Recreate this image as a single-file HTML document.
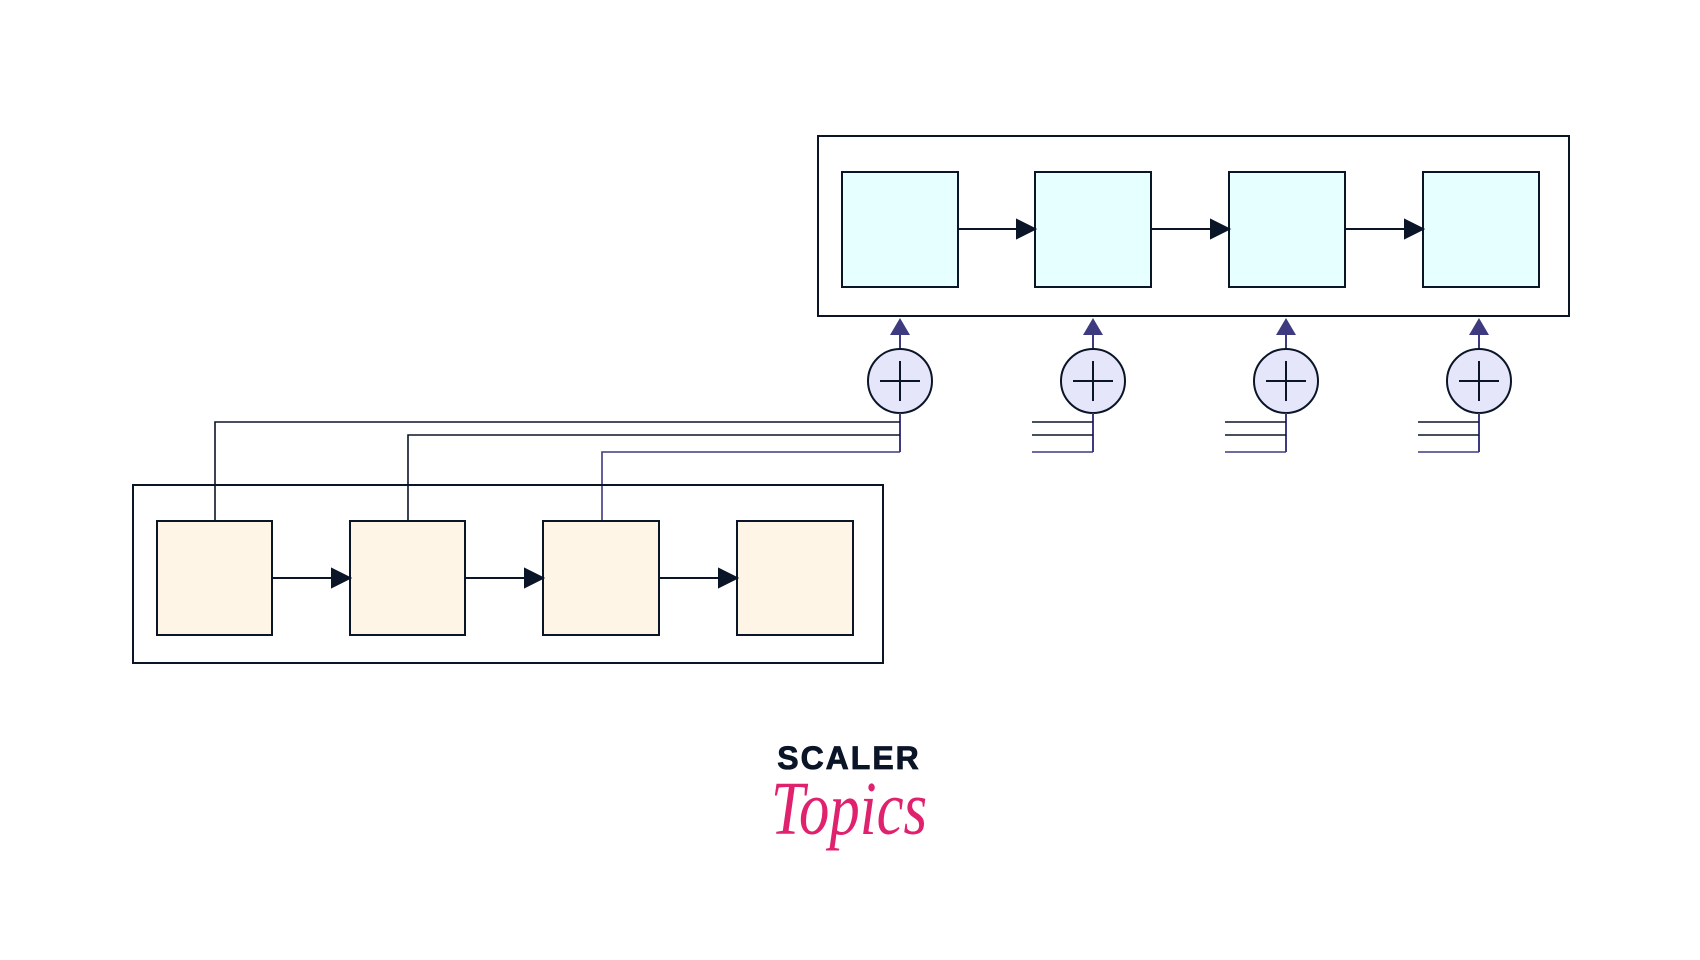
<!DOCTYPE html>
<html><head><meta charset="utf-8"><style>
html,body{margin:0;padding:0;background:#fff;width:1700px;height:960px;overflow:hidden}
</style></head><body>
<svg width="1700" height="960" viewBox="0 0 1700 960" xmlns="http://www.w3.org/2000/svg">
<g fill="none" stroke="#0b1528" stroke-width="2">
<rect x="818" y="136" width="751" height="180"/>
<rect x="842" y="172" width="116" height="115" fill="#e6ffff"/>
<rect x="1035" y="172" width="116" height="115" fill="#e6ffff"/>
<rect x="1229" y="172" width="116" height="115" fill="#e6ffff"/>
<rect x="1423" y="172" width="116" height="115" fill="#e6ffff"/>
</g>
<g fill="#0b1528" stroke="#0b1528" stroke-width="2">
<line x1="958" y1="229" x2="1018" y2="229"/><path d="M1017,220 L1035,229 L1017,238z"/>
<line x1="1151" y1="229" x2="1212" y2="229"/><path d="M1211,220 L1229,229 L1211,238z"/>
<line x1="1345" y1="229" x2="1406" y2="229"/><path d="M1405,220 L1423,229 L1405,238z"/>
</g>
<g stroke-width="2">
<line x1="900" y1="335" x2="900" y2="349" stroke="#3e3a80"/><path d="M890,335 L900,318 L910,335z" fill="#3e3a80"/>
<circle cx="900" cy="381" r="32" fill="#e6e6fa" stroke="#0b1528"/>
<line x1="880" y1="381" x2="920" y2="381" stroke="#0b1528"/><line x1="900" y1="361" x2="900" y2="401" stroke="#0b1528"/>
<line x1="900" y1="413" x2="900" y2="452" stroke="#3e3a80"/>

<line x1="1093" y1="335" x2="1093" y2="349" stroke="#3e3a80"/><path d="M1083,335 L1093,318 L1103,335z" fill="#3e3a80"/>
<circle cx="1093" cy="381" r="32" fill="#e6e6fa" stroke="#0b1528"/>
<line x1="1073" y1="381" x2="1113" y2="381" stroke="#0b1528"/><line x1="1093" y1="361" x2="1093" y2="401" stroke="#0b1528"/>
<line x1="1093" y1="413" x2="1093" y2="452" stroke="#3e3a80"/>

<line x1="1286" y1="335" x2="1286" y2="349" stroke="#3e3a80"/><path d="M1276,335 L1286,318 L1296,335z" fill="#3e3a80"/>
<circle cx="1286" cy="381" r="32" fill="#e6e6fa" stroke="#0b1528"/>
<line x1="1266" y1="381" x2="1306" y2="381" stroke="#0b1528"/><line x1="1286" y1="361" x2="1286" y2="401" stroke="#0b1528"/>
<line x1="1286" y1="413" x2="1286" y2="452" stroke="#3e3a80"/>

<line x1="1479" y1="335" x2="1479" y2="349" stroke="#3e3a80"/><path d="M1469,335 L1479,318 L1489,335z" fill="#3e3a80"/>
<circle cx="1479" cy="381" r="32" fill="#e6e6fa" stroke="#0b1528"/>
<line x1="1459" y1="381" x2="1499" y2="381" stroke="#0b1528"/><line x1="1479" y1="361" x2="1479" y2="401" stroke="#0b1528"/>
<line x1="1479" y1="413" x2="1479" y2="452" stroke="#3e3a80"/>
</g>
<g stroke-width="1.6" fill="none">
<line x1="1032" y1="422" x2="1093" y2="422" stroke="#0b1528"/><line x1="1032" y1="435" x2="1093" y2="435" stroke="#0b1528"/><line x1="1032" y1="452" x2="1093" y2="452" stroke="#3e3a80"/>
<line x1="1225" y1="422" x2="1286" y2="422" stroke="#0b1528"/><line x1="1225" y1="435" x2="1286" y2="435" stroke="#0b1528"/><line x1="1225" y1="452" x2="1286" y2="452" stroke="#3e3a80"/>
<line x1="1418" y1="422" x2="1479" y2="422" stroke="#0b1528"/><line x1="1418" y1="435" x2="1479" y2="435" stroke="#0b1528"/><line x1="1418" y1="452" x2="1479" y2="452" stroke="#3e3a80"/>
<polyline points="215,521 215,422 900,422" stroke="#0b1528"/>
<polyline points="408,521 408,435 900,435" stroke="#0b1528"/>
<polyline points="602,521 602,452 900,452" stroke="#3e3a80"/>
</g>
<g fill="none" stroke="#0b1528" stroke-width="2">
<rect x="133" y="485" width="750" height="178"/>
<rect x="157" y="521" width="115" height="114" fill="#fef5e7"/>
<rect x="350" y="521" width="115" height="114" fill="#fef5e7"/>
<rect x="543" y="521" width="116" height="114" fill="#fef5e7"/>
<rect x="737" y="521" width="116" height="114" fill="#fef5e7"/>
</g>
<g fill="#0b1528" stroke="#0b1528" stroke-width="2">
<line x1="272" y1="578" x2="333" y2="578"/><path d="M332,569 L350,578 L332,587z"/>
<line x1="465" y1="578" x2="526" y2="578"/><path d="M525,569 L543,578 L525,587z"/>
<line x1="659" y1="578" x2="720" y2="578"/><path d="M719,569 L737,578 L719,587z"/>
</g>
<text x="849" y="769" text-anchor="middle" font-family="Liberation Sans, sans-serif" font-weight="bold" font-size="32" letter-spacing="2" fill="#0b1528" stroke="#0b1528" stroke-width="0.8">SCALER</text>
<text x="849" y="834" text-anchor="middle" font-family="Liberation Serif, serif" font-style="italic" font-size="66" fill="#e0226e" transform="translate(849 834) scale(0.92 1.15) translate(-849 -834)">Topics</text>
</svg>
</body></html>
